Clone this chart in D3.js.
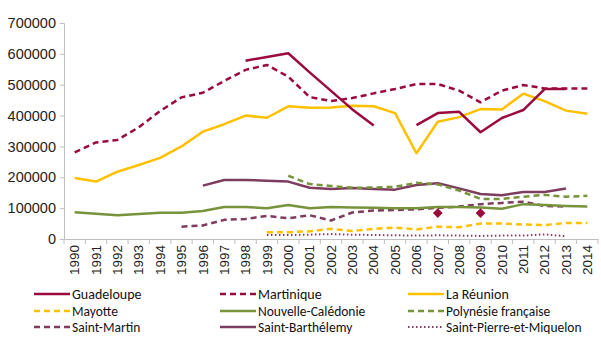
<!DOCTYPE html>
<html>
<head>
<meta charset="utf-8">
<script src="https://cdn.jsdelivr.net/npm/d3@7"></script>
<style>
body { margin: 0; background: #fff; }
svg { font-family: Carlito, "Liberation Sans Narrow", "DejaVu Sans Condensed", Arial, sans-serif; }
.axis path, .axis line { stroke: #bfbfbf; }
.axis text { fill: #222; }
</style>
</head>
<body>
<div class="chart"></div>
<script>
const years = d3.range(1990, 2015).map(String);
const yTicks = [0, 100000, 200000, 300000, 400000, 500000, 600000, 700000];

const guadeloupe = [null, null, null, null, null, null, null, null, 578000, 590000, 602000, 540000, 480000, 420000, 368000, null, 369000, 408000, 412000, 346000, 392000, 418000, 486000, 486000, null];
const martinique = [281000, 313000, 321000, 362000, 415000, 459000, 474000, 512000, 548000, 564000, 526000, 460000, 447000, 457000, 472000, 486000, 502000, 502000, 481000, 443000, 481000, 499000, 488000, 488000, 488000];
const reunion = [198000, 186000, 218000, 240000, 263000, 300000, 348000, 372000, 400000, 393000, 430000, 425000, 426000, 432000, 430000, 408000, 278000, 380000, 395000, 421000, 420000, 471000, 447000, 416000, 406000];
const mayotte = [null, null, null, null, null, null, null, null, null, 22000, 22000, 25000, 33000, 26000, 33000, 37000, 31000, 40000, 38000, 50000, 50000, 47000, 45000, 52000, 52000];
const caledonie = [87000, 82000, 77000, 81000, 85000, 85000, 91000, 104000, 104000, 100000, 110000, 100000, 104000, 102000, 101000, 100000, 100000, 104000, 104000, 102000, 98000, 113000, 110000, 107000, 105000];
const polynesie = [null, null, null, null, null, null, null, null, null, null, 205000, 178000, 172000, 166000, 167000, 169000, 182000, 177000, 157000, 130000, 130000, 137000, 143000, 137000, 140000];
const stMartin = [null, null, null, null, null, 40000, 44000, 62000, 65000, 75000, 67000, 77000, 60000, 86000, 92000, 94000, 96000, 101000, 105000, 113000, 117000, 121000, 107000, 105000, null];
const stBarth = [null, null, null, null, null, null, 173000, 191000, 191000, 189000, 186000, 166000, 162000, 165000, 162000, 160000, 175000, 181000, 164000, 146000, 142000, 152000, 152000, 164000, null];
const stPierre = [null, null, null, null, null, null, null, null, null, 13000, 13000, 14000, 16000, 14000, 13000, 12000, 11000, 12000, 11000, 10000, 11000, 11000, 15000, 9000, null];
// isolated points shown as diamonds
const markerYears = ["2007", "2009"];
const markerValues = [84000, 84000];

const red = "#9b0a3c", gold = "#ffc000", green = "#77933c", mauve = "#7e3d5f";
const series = [
  { name: "Guadeloupe", values: guadeloupe, color: red, dash: null, width: 2.5 },
  { name: "Martinique", values: martinique, color: red, dash: "6,4", width: 2.5 },
  { name: "La Réunion", values: reunion, color: gold, dash: null, width: 2.5 },
  { name: "Mayotte", values: mayotte, color: gold, dash: "6,4", width: 2.5 },
  { name: "Nouvelle-Calédonie", values: caledonie, color: green, dash: null, width: 2.5 },
  { name: "Polynésie française", values: polynesie, color: green, dash: "6,4", width: 2.5 },
  { name: "Saint-Martin", values: stMartin, color: mauve, dash: "6,4", width: 2.5 },
  { name: "Saint-Barthélemy", values: stBarth, color: mauve, dash: null, width: 2.5 },
  { name: "Saint-Pierre-et-Miquelon", values: stPierre, color: mauve, dash: "1.5,2.5", width: 2 }
];

const w = 601, h = 340,
plotLeft = 64, plotRight = 598, plotTop = 23, plotBottom = 239;

const svg = d3.select(".chart").append("svg")
.attr("width", w)
.attr("height", h);

const xScale = d3.scaleBand().domain(years).range([plotLeft, plotRight]);
const yScale = d3.scaleLinear().domain([0, 700000]).range([plotBottom, plotTop]);

const yAxis = d3.axisLeft(yScale)
.tickValues(yTicks)
.tickFormat(d3.format("d"))
.tickSizeOuter(0)
.tickSize(4)
.tickPadding(4);
svg.append("g")
.attr("class", "axis")
.attr("transform", "translate(" + plotLeft + ",0)")
.call(yAxis)
.selectAll("text")
.style("font-size", "14.5px");

const xAxis = d3.axisBottom(xScale).tickSize(0).tickSizeOuter(0);
const gx = svg.append("g")
.attr("class", "axis")
.attr("transform", "translate(0," + plotBottom + ")")
.call(xAxis);
gx.selectAll("text")
.attr("transform", "rotate(-90)")
.attr("x", -6)
.attr("y", 0)
.attr("dy", "0.35em")
.style("text-anchor", "end")
.style("font-size", "13.5px");
// tick marks between categories
gx.selectAll(".sep")
.data(years.concat(["end"]))
.enter()
.append("line")
.attr("class", "sep")
.attr("x1", (d) => d === "end" ? plotRight : xScale(d))
.attr("x2", (d) => d === "end" ? plotRight : xScale(d))
.attr("y1", 0)
.attr("y2", 5);

const line = d3.line()
.defined((d) => d.v !== null)
.x((d) => xScale(d.year) + xScale.bandwidth() / 2)
.y((d) => yScale(d.v));

// draw bottom to top so the big series sit above
series.slice().reverse().forEach((s) => {
  svg.append("path")
  .datum(years.map((y, i) => ({ year: y, v: s.values[i] })))
  .attr("fill", "none")
  .attr("stroke", s.color)
  .attr("stroke-width", s.width)
  .attr("stroke-dasharray", s.dash)
  .attr("stroke-linejoin", "round")
  .attr("d", line);
});

svg.selectAll(".marker")
.data(markerYears)
.enter()
.append("path")
.attr("class", "marker")
.attr("d", d3.symbol(d3.symbolDiamond2, 60))
.attr("fill", red)
.attr("transform", (d, i) => "translate(" + (xScale(d) + xScale.bandwidth() / 2) + "," + yScale(markerValues[i]) + ")");

// legend
const colX = [34, 220, 408], rowY = [294, 311, 327];
const lg = svg.selectAll(".legend")
.data(series)
.enter()
.append("g")
.attr("class", "legend")
.attr("transform", (d, i) => "translate(" + colX[i % 3] + "," + rowY[Math.floor(i / 3)] + ")");
lg.append("line")
.attr("x1", 0)
.attr("x2", 36)
.attr("stroke", (d) => d.color)
.attr("stroke-width", (d) => d.width)
.attr("stroke-dasharray", (d) => d.dash);
lg.append("text")
.attr("x", 38)
.attr("dy", "0.35em")
.style("font-size", (d, i) => i < 3 ? "14px" : "13.5px")
.attr("fill", "#111")
.text((d) => d.name);
</script>
</body>
</html>
